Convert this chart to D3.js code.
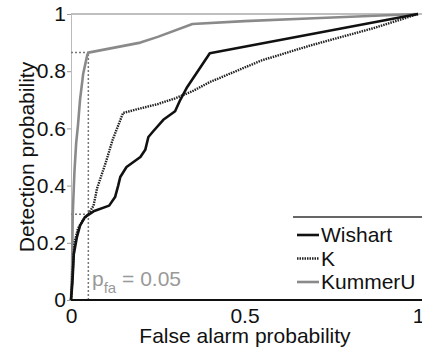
<!DOCTYPE html>
<html>
<head>
<meta charset="utf-8">
<script src="https://cdn.jsdelivr.net/npm/d3@7"></script>
<style>
  body { margin: 0; background: #fff; }
  text { font-family: "Liberation Sans", Arial, sans-serif; }
</style>
</head>
<body>
<script>
var width = 422,
  height = 347;

// ROC curves
var wishartX = [0, 0.004, 0.008, 0.017, 0.026, 0.04, 0.065, 0.11, 0.127, 0.136, 0.142, 0.16, 0.2, 0.214, 0.223, 0.237, 0.266, 0.3, 0.315, 0.335, 0.4, 1];
var wishartY = [0, 0.06, 0.16, 0.22, 0.26, 0.29, 0.31, 0.33, 0.36, 0.4, 0.43, 0.465, 0.5, 0.525, 0.57, 0.59, 0.63, 0.66, 0.7, 0.745, 0.863, 1];

var kX = [0, 0.005, 0.01, 0.02, 0.035, 0.05, 0.065, 0.07, 0.075, 0.1, 0.12, 0.15, 0.2, 0.25, 0.3, 0.35, 0.4, 0.55, 0.69, 0.87, 1];
var kY = [0, 0.1, 0.2, 0.25, 0.28, 0.3, 0.33, 0.36, 0.39, 0.48, 0.56, 0.654, 0.67, 0.685, 0.705, 0.73, 0.762, 0.838, 0.89, 0.95, 1];

var kummerX = [0, 0.003, 0.005, 0.01, 0.015, 0.02, 0.026, 0.035, 0.047, 0.05, 0.2, 0.25, 0.35, 0.5, 0.7, 1];
var kummerY = [0, 0.1, 0.3, 0.45, 0.55, 0.61, 0.7, 0.79, 0.857, 0.865, 0.9, 0.92, 0.965, 0.975, 0.985, 1];

var seriesNames = ["Wishart", "K", "KummerU"];
var yTicks = [0, 0.2, 0.4, 0.6, 0.8, 1];
var xTicks = [0, 0.5, 1];
var pfa = 0.05, pdKummer = 0.865, pdWishart = 0.3;

var svg = d3.select('body').append('svg')
  .attr('width', width)
  .attr('height', height);

var x = d3.scaleLinear().domain([0, 1]).range([71, 418]);
var y = d3.scaleLinear().domain([0, 1]).range([300, 14]);

var styles = {
  "Wishart": { stroke: "#111", width: 2.6, dash: null },
  "K": { stroke: "#222", width: 2.4, dash: "1.5,1" },
  "KummerU": { stroke: "#8a8a8a", width: 2.6, dash: null }
};

// frame: top border and faint left axis line
svg.append("line")
  .attr("x1", x(0)).attr("x2", width)
  .attr("y1", y(1)).attr("y2", y(1))
  .attr("stroke", "#aaa").attr("stroke-width", 1.5);

var yAxis = svg.append("g")
  .attr("transform", "translate(" + x(0) + ",0)")
  .call(d3.axisLeft(y).tickValues(yTicks).tickSize(4).tickPadding(1).tickFormat(d3.format("~g")));
yAxis.select(".domain").attr("stroke", "#bbb");
yAxis.selectAll(".tick line").attr("stroke", "#999");
yAxis.selectAll("text").attr("font-size", 21).attr("fill", "#111")
  .attr("font-family", "Liberation Sans, Arial, sans-serif");

// dotted reference lines at pfa = 0.05
var ref = svg.append("g")
  .attr("stroke", "#777").attr("stroke-width", 1.5)
  .attr("stroke-dasharray", "2,2").attr("fill", "none");
ref.append("line")
  .attr("x1", x(pfa)).attr("x2", x(pfa))
  .attr("y1", y(0)).attr("y2", y(pdKummer));
ref.append("line")
  .attr("x1", x(0)).attr("x2", x(pfa))
  .attr("y1", y(pdKummer)).attr("y2", y(pdKummer));
ref.append("line")
  .attr("x1", x(0)).attr("x2", x(pfa))
  .attr("y1", y(pdWishart)).attr("y2", y(pdWishart));

var pt = svg.append("text")
  .attr("x", 92).attr("y", 286)
  .attr("font-size", 21).attr("fill", "#999");
pt.append("tspan").text("p");
pt.append("tspan").attr("font-size", 15).attr("dy", 7).text("fa");
pt.append("tspan").attr("dy", -7).text(" = 0.05");

var line = d3.line()
  .x(function(d) { return x(d[0]); })
  .y(function(d) { return y(d[1]); });

var data = [
  { name: "KummerU", pts: d3.zip(kummerX, kummerY) },
  { name: "K", pts: d3.zip(kX, kY) },
  { name: "Wishart", pts: d3.zip(wishartX, wishartY) }
];

svg.append("g").selectAll("path")
  .data(data)
  .enter().append("path")
    .attr("d", function(d) { return line(d.pts); })
    .attr("fill", "none")
    .attr("stroke", function(d) { return styles[d.name].stroke; })
    .attr("stroke-width", function(d) { return styles[d.name].width; })
    .attr("stroke-dasharray", function(d) { return styles[d.name].dash; })
    .attr("stroke-linejoin", "round");

var xAxis = svg.append("g")
  .attr("transform", "translate(0," + y(0) + ")")
  .call(d3.axisBottom(x).tickValues(xTicks).tickSize(0).tickPadding(8).tickFormat(d3.format("~g")));
xAxis.select(".domain").attr("d", "M" + x(0) + ",0H" + width).attr("stroke", "#111").attr("stroke-width", 2);
xAxis.selectAll("text").attr("font-size", 21).attr("fill", "#111")
  .attr("font-family", "Liberation Sans, Arial, sans-serif");

// legend
var legend = svg.append("g");
legend.append("rect")
  .attr("x", 293).attr("y", 217).attr("width", 140).attr("height", 78)
  .attr("fill", "#fff");
legend.append("line")
  .attr("x1", 293).attr("x2", width).attr("y1", 217).attr("y2", 217)
  .attr("stroke", "#333").attr("stroke-width", 1.5);

var item = legend.selectAll(".item")
  .data(seriesNames)
  .enter().append("g")
    .attr("class", "item")
    .attr("transform", function(d, i) { return "translate(0," + (235 + i * 23.5) + ")"; });
item.append("line")
  .attr("x1", 297).attr("x2", 319)
  .attr("stroke", function(d) { return styles[d].stroke; })
  .attr("stroke-width", function(d) { return styles[d].width; })
  .attr("stroke-dasharray", function(d) { return styles[d].dash; });
item.append("text")
  .attr("x", 321).attr("dy", "0.35em")
  .attr("font-size", 21).attr("fill", "#111")
  .text(function(d) { return d; });

svg.append("text")
  .attr("x", 245).attr("y", 343)
  .attr("text-anchor", "middle").attr("font-size", 21).attr("fill", "#111")
  .text("False alarm probability");

svg.append("text")
  .attr("transform", "translate(34,157) rotate(-90)")
  .attr("text-anchor", "middle").attr("font-size", 21).attr("fill", "#111")
  .text("Detection probability");
</script>
</body>
</html>
